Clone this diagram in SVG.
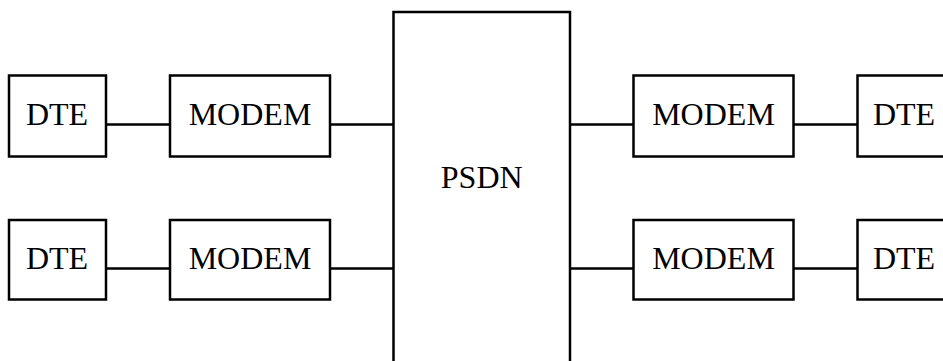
<svg xmlns="http://www.w3.org/2000/svg" width="943" height="361" viewBox="0 0 943 361">
<style>
.box{fill:#fff;stroke:#000;stroke-width:2.5}
.ln{stroke:#000;stroke-width:2.5;fill:none}
text{font-family:"Liberation Serif","Times New Roman",serif;font-size:32px;fill:#000;text-anchor:middle}
</style>
<rect width="943" height="361" fill="#fff"/>
<g id="connectors">
<line class="ln" x1="106" y1="124.5" x2="170" y2="124.5"/>
<line class="ln" x1="330" y1="124.5" x2="393.5" y2="124.5"/>
<line class="ln" x1="106" y1="268.5" x2="170" y2="268.5"/>
<line class="ln" x1="330" y1="268.5" x2="393.5" y2="268.5"/>
<line class="ln" x1="570" y1="124.5" x2="633.5" y2="124.5"/>
<line class="ln" x1="793.5" y1="124.5" x2="857.5" y2="124.5"/>
<line class="ln" x1="570" y1="268.5" x2="633.5" y2="268.5"/>
<line class="ln" x1="793.5" y1="268.5" x2="857.5" y2="268.5"/>
</g>
<g id="psdn"><rect class="box" x="393.5" y="12" width="176.5" height="360"/><text x="481.7" y="188">PSDN</text></g>
<g id="dte1"><rect class="box" x="9" y="75.5" width="97" height="81"/><text x="57" y="124.5">DTE</text></g>
<g id="modem1"><rect class="box" x="170" y="75.5" width="160" height="81"/><text x="250" y="124.5">MODEM</text></g>
<g id="dte2"><rect class="box" x="9" y="220" width="97" height="79.5"/><text x="57" y="269">DTE</text></g>
<g id="modem2"><rect class="box" x="170" y="220" width="160" height="79.5"/><text x="250" y="269">MODEM</text></g>
<g id="modem3"><rect class="box" x="633.5" y="75.5" width="160" height="81"/><text x="713.5" y="124.5">MODEM</text></g>
<g id="dte3"><rect class="box" x="857.5" y="75.5" width="97" height="81"/><text x="904" y="124.5">DTE</text></g>
<g id="modem4"><rect class="box" x="633.5" y="220" width="160" height="79.5"/><text x="713.5" y="269">MODEM</text></g>
<g id="dte4"><rect class="box" x="857.5" y="220" width="97" height="79.5"/><text x="904" y="269">DTE</text></g>
</svg>
